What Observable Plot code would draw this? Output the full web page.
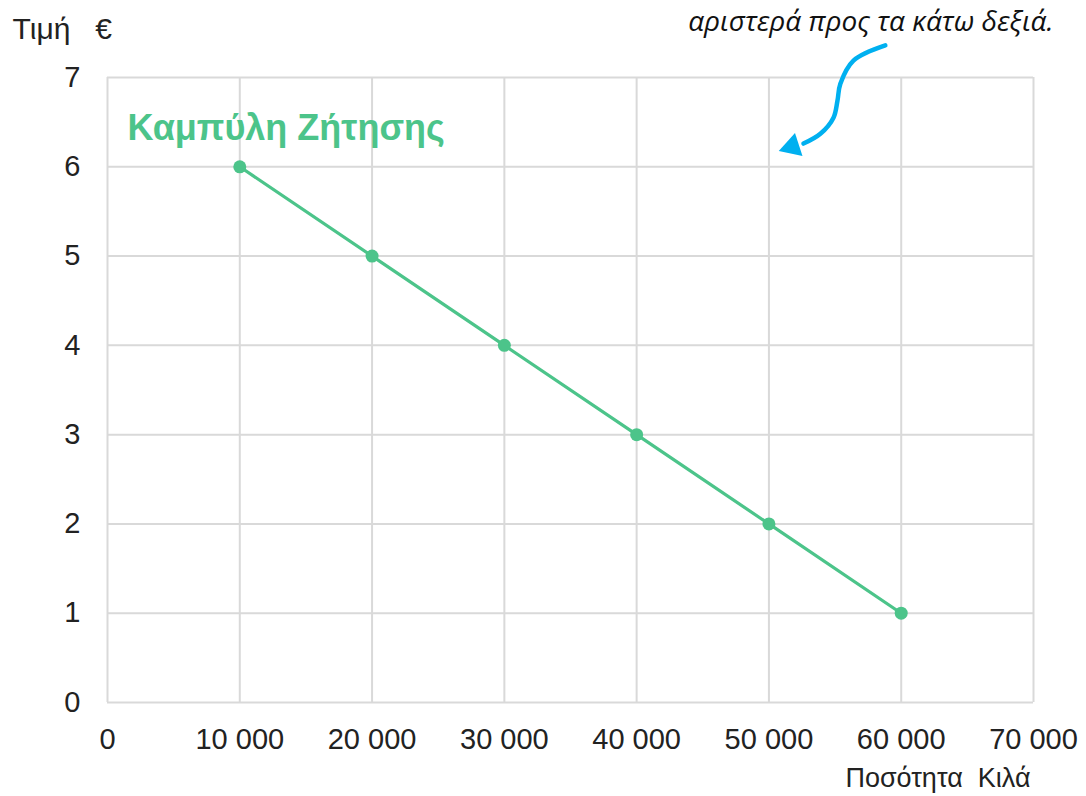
<!DOCTYPE html>
<html>
<head>
<meta charset="utf-8">
<script src="https://cdn.jsdelivr.net/npm/d3@7"></script>
<script src="https://cdn.jsdelivr.net/npm/@observablehq/plot@0.6"></script>
<style>
  html, body { margin: 0; padding: 0; background: #fff; }
  #chart svg { display: block; overflow: hidden; }
</style>
</head>
<body>
<div id="chart"></div>
<script>
// Data
const quantities = [10000, 20000, 30000, 40000, 50000, 60000];
const prices = [6, 5, 4, 3, 2, 1];
const xTicks = [0, 10000, 20000, 30000, 40000, 50000, 60000, 70000];
const yTicks = [0, 1, 2, 3, 4, 5, 6, 7];
const curveTitle = "Καμπύλη Ζήτησης";
const yLabel = "Τιμή   €";
const xLabel = "Ποσότητα  Κιλά";
const topNote = "αριστερά προς τα κάτω δεξιά.";
// annotation arrow path (data coordinates)
const arrowX = [58800, 56390, 55400, 55180, 54880, 53890, 52610];
const arrowY = [7.36, 7.19, 6.93, 6.74, 6.55, 6.37, 6.26];
const arrowTipX = [51750];
const arrowTipY = [6.225];

const green = "#4cc48a";
const grid = "#d9d9d9";
const blue = "#00b0f0";

const demand = quantities.map((q, i) => ({q, p: prices[i]}));
const arrow = arrowX.map((x, i) => ({x, y: arrowY[i]}));
const tip = arrowTipX.map((x, i) => ({x, y: arrowTipY[i]}));
const fmt = d => d === 0 ? "0" : d3.format(",")(d).replace(/,/g, " ");

const chart = Plot.plot({
  width: 1086,
  height: 796,
  marginLeft: 107,
  marginRight: 53,
  marginTop: 77,
  marginBottom: 94,
  style: {fontFamily: "'Liberation Sans', Arial, sans-serif", fontSize: "29px", color: "#222", background: "#fff"},
  x: {domain: [0, 70000], ticks: xTicks, tickFormat: fmt, tickSize: 0, tickPadding: 26, label: null},
  y: {domain: [0, 7], ticks: yTicks, tickFormat: d3.format("d"), tickSize: 0, tickPadding: 27, label: null},
  marks: [
    Plot.ruleX(xTicks, {stroke: grid, strokeWidth: 2}),
    Plot.ruleY(yTicks, {stroke: grid, strokeWidth: 2}),
    Plot.line(demand, {x: "q", y: "p", stroke: green, strokeWidth: 3.2}),
    Plot.dot(demand, {x: "q", y: "p", r: 6.5, fill: green}),
    Plot.text([curveTitle], {frameAnchor: "top-left", dx: 20, dy: 37, text: d => d, textAnchor: "start", fill: green, fontWeight: "bold", fontSize: 36}),
    Plot.text([yLabel], {frameAnchor: "top-left", dx: -95, dy: -60, text: d => d, textAnchor: "start", fill: "#222", fontSize: 30}),
    Plot.text([xLabel], {frameAnchor: "bottom-right", dx: -3, dy: 84, text: d => d, textAnchor: "end", fill: "#222", fontSize: 27}),
    Plot.text([topNote], {frameAnchor: "top-right", dx: 20, dy: -66, text: d => d, textAnchor: "end", lineAnchor: "top", fill: "#111", fontStyle: "italic", fontFamily: "'Open Sans', sans-serif", fontSize: 28}),
    Plot.line(arrow, {x: "x", y: "y", curve: "catmull-rom", stroke: blue, strokeWidth: 4.5, clip: false}),
    Plot.dot(tip, {x: "x", y: "y", symbol: "triangle", r: 9, fill: blue, rotate: -108})
  ]
});
document.getElementById("chart").appendChild(chart);
</script>
</body>
</html>
